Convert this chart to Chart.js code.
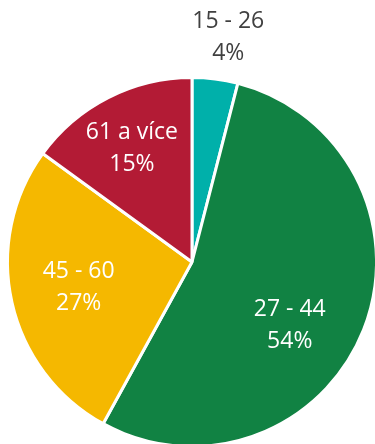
<!DOCTYPE html>
<html lang="cs">
<head>
    <meta charset="UTF-8">
    <meta name="viewport" content="width=device-width, initial-scale=1.0">
    <title>Věkové skupiny</title>
    <style>
        html, body {
            margin: 0;
            padding: 0;
            background: #ffffff;
            overflow: hidden;
        }
        #graf {
            display: block;
        }
    </style>
    <script src="https://cdn.jsdelivr.net/npm/chart.js"></script>
</head>
<body>
    <canvas id="graf" width="375" height="444"></canvas>

    <script>
        // věkové skupiny a jejich podíl v procentech
        const skupiny = ['15 - 26', '27 - 44', '45 - 60', '61 a více'];
        const podily = [4, 54, 27, 15];
        const barvy = ['#00b0aa', '#118243', '#f5b800', '#b31b35'];
        const barvyTextu = ['#404040', '#ffffff', '#ffffff', '#ffffff'];

        // umístění popisků: násobek poloměru a posun úhlu ve stupních
        const vzdalenostPopisku = [1.243, 0.626, 0.628, 0.703];
        const posunUhlu = [1.9, 10.6, 0.6, -0.6];

        const popisky = {
            id: 'popisky',
            afterDatasetsDraw(chart) {
                const ctx = chart.ctx;
                const meta = chart.getDatasetMeta(0);
                ctx.save();
                ctx.font = '23px "Open Sans", sans-serif';
                ctx.textAlign = 'center';
                ctx.textBaseline = 'alphabetic';
                meta.data.forEach((arc, i) => {
                    const p = arc.getProps(['x', 'y', 'startAngle', 'endAngle', 'outerRadius'], true);
                    const uhel = (p.startAngle + p.endAngle) / 2 + posunUhlu[i] * Math.PI / 180;
                    const r = p.outerRadius * vzdalenostPopisku[i];
                    const cx = p.x + Math.cos(uhel) * r;
                    const cy = p.y + Math.sin(uhel) * r;
                    ctx.fillStyle = barvyTextu[i];
                    ctx.fillText(skupiny[i], cx, cy - 16 + 8);
                    ctx.fillText(podily[i] + '%', cx, cy + 16 + 8);
                });
                ctx.restore();
            }
        };

        const ctx = document.getElementById('graf').getContext('2d');
        const graf = new Chart(ctx, {
            type: 'pie',
            data: {
                labels: skupiny,
                datasets: [{
                    data: podily,
                    backgroundColor: barvy,
                    borderColor: '#ffffff',
                    borderWidth: 3,
                    radius: 184.5,
                }],
            },
            options: {
                responsive: false,
                animation: false,
                events: [],
                layout: {
                    padding: { left: 9, top: 80, right: 0, bottom: 0 },
                },
                plugins: {
                    legend: { display: false },
                    tooltip: { enabled: false },
                },
            },
            plugins: [popisky],
        });
    </script>
</body>
</html>
